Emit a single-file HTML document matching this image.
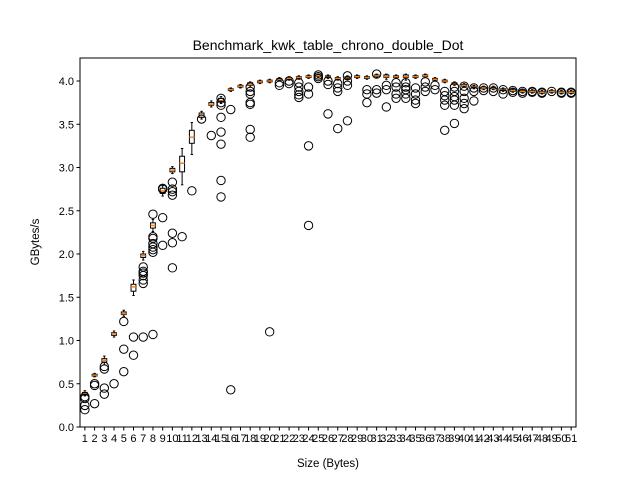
<!DOCTYPE html>
<html><head><meta charset="utf-8"><style>
body{margin:0;background:#fff;}
svg{display:block;font-family:"Liberation Sans","DejaVu Sans",sans-serif;}
</style></head><body>
<svg id="chart" width="640" height="480">
<rect width="640" height="480" fill="#fff"/>
<text x="328" y="50" text-anchor="middle" font-size="14">Benchmark_kwk_table_chrono_double_Dot</text>
<text x="328" y="467" text-anchor="middle" font-size="11.5">Size (Bytes)</text>
<text transform="translate(39,242) rotate(-90)" text-anchor="middle" font-size="11.5">GBytes/s</text>
<g id="marks"></g>
<rect x="80" y="58" width="496" height="369" fill="none" stroke="#000" stroke-width="1"/>
</svg>
<script>
const categories = Array.from({length:51},(_,i)=>String(i+1));
const medians = [0.39,0.6,0.77,1.08,1.31,1.62,1.98,2.33,2.73,2.97,3.05,3.35,3.6,3.73,3.77,3.9,3.94,3.96,3.99,4.0,4.02,4.03,4.04,4.05,4.06,4.05,4.03,4.04,4.05,4.04,4.06,4.05,4.05,4.05,4.05,4.06,4.02,4.0,3.97,3.95,3.93,3.92,3.92,3.9,3.89,3.88,3.88,3.87,3.88,3.87,3.87];
const q1s = [0.37,0.59,0.75,1.06,1.3,1.57,1.96,2.3,2.7,2.95,2.95,3.28,3.58,3.72,3.76,3.89,3.93,3.95,3.98,3.99,4.01,4.02,4.03,4.04,4.05,4.04,4.02,4.03,4.04,4.03,4.05,4.04,4.04,4.04,4.04,4.05,4.01,3.99,3.96,3.94,3.92,3.91,3.91,3.89,3.88,3.87,3.87,3.86,3.87,3.86,3.86];
const q3s = [0.4,0.61,0.79,1.09,1.33,1.65,2.0,2.36,2.76,2.99,3.13,3.43,3.63,3.75,3.8,3.91,3.95,3.98,4.0,4.01,4.03,4.04,4.05,4.06,4.07,4.06,4.04,4.05,4.06,4.05,4.07,4.07,4.06,4.07,4.06,4.07,4.03,4.01,3.98,3.96,3.94,3.93,3.93,3.91,3.9,3.89,3.89,3.88,3.89,3.88,3.88];
const whisLo = [0.36,0.58,0.72,1.04,1.28,1.52,1.93,2.26,2.67,2.93,2.8,3.15,3.56,3.7,3.74,3.88,3.92,3.93,3.97,3.98,4.0,4.01,4.02,4.03,4.04,4.03,4.01,4.02,4.03,4.02,4.04,4.02,4.03,4.01,4.03,4.04,4.0,3.98,3.95,3.93,3.91,3.9,3.9,3.88,3.87,3.86,3.86,3.85,3.86,3.85,3.85];
const whisHi = [0.42,0.62,0.82,1.11,1.35,1.7,2.03,2.4,2.79,3.01,3.22,3.52,3.65,3.77,3.82,3.92,3.96,3.99,4.01,4.02,4.04,4.05,4.06,4.07,4.08,4.07,4.05,4.06,4.07,4.06,4.08,4.08,4.07,4.08,4.07,4.08,4.04,4.02,3.99,3.97,3.95,3.94,3.94,3.92,3.91,3.9,3.9,3.89,3.9,3.89,3.89];
const outliers = [
[0.35,0.33,0.25,0.2],[0.5,0.48,0.27],[0.7,0.67,0.45,0.38],[0.5],[1.22,0.9,0.64],[1.04,0.83],
[1.85,1.8,1.78,1.75,1.7,1.66,1.04],[2.46,2.2,2.18,2.12,2.08,2.05,2.02,1.07],[2.76,2.75,2.42,2.1],
[2.83,2.75,2.72,2.68,2.24,2.13,1.84],[2.2],[2.73],[3.56],[3.37],[3.8,3.75,3.72,3.58,3.41,3.27,2.85,2.66],
[3.67,0.43],[],[3.93,3.88,3.85,3.75,3.73,3.44,3.35],[],[1.1],[3.98,3.95],[4.0,3.97],
[3.98,3.93,3.88,3.84,3.81],[3.93,3.85,3.25,2.33],[4.07,4.05,4.03],[4.0,3.96,3.62],[3.97,3.92,3.88,3.45],
[4.06,4.0,3.95,3.54],[],[3.9,3.85,3.75],[4.08,3.9,3.86],[3.95,3.9,3.7],[3.98,3.93,3.85,3.8],
[3.98,3.93,3.9,3.85,3.8],[3.92,3.85,3.78,3.74],[3.99,3.93,3.88],[3.95,3.9],[3.88,3.83,3.78,3.72,3.43],
[3.93,3.88,3.82,3.78,3.72,3.51],[3.94,3.88,3.8,3.74,3.68],[3.92,3.88,3.77],[3.92,3.89],[3.92,3.88],[3.9,3.85],
[3.89,3.87],[3.88,3.86],[3.88,3.87],[3.87,3.86],[3.88],[3.87,3.86],[3.87,3.86]
];
const yTicks = [0.0,0.5,1.0,1.5,2.0,2.5,3.0,3.5,4.0];

const L=80,R=576,T=58,B=427, yMax=4.266;
const xs = i => L + (i+0.5)*(R-L)/categories.length;
const ys = v => B - v/yMax*(B-T);
const NS="http://www.w3.org/2000/svg";
const g=document.getElementById('marks');
function mk(tag,attrs){const e=document.createElementNS(NS,tag);for(const k in attrs)e.setAttribute(k,attrs[k]);g.appendChild(e);return e;}

yTicks.forEach(v=>{
  const y=ys(v);
  const t=mk('line',{x1:L-3.5,x2:L,y1:y,y2:y,stroke:'#000'});
  
  
  const tx=mk('text',{x:L-6,y:y+4,'text-anchor':'end','font-size':'11'});
  tx.textContent=v.toFixed(1);
  
  
});
const bw=(R-L)/categories.length*0.5;
categories.forEach((c,i)=>{
  const x=xs(i);
  const t=mk('line',{x1:x,x2:x,y1:B,y2:B+3.5,stroke:'#000'});
  
  
  const tx=mk('text',{x:x,y:B+15,'text-anchor':'middle','font-size':'11'});
  tx.textContent=c;
  
  
  const w1=mk('line',{x1:x,x2:x,y1:ys(whisLo[i]),y2:ys(q1s[i]),stroke:'#000'});
  
  
  const w2=mk('line',{x1:x,x2:x,y1:ys(q3s[i]),y2:ys(whisHi[i]),stroke:'#000'});
  
  
  [whisLo[i],whisHi[i]].forEach(v=>{
    const cap=mk('line',{x1:x-bw/4,x2:x+bw/4,y1:ys(v),y2:ys(v),stroke:'#000'});
    
    
  });
  const box=mk('rect',{x:x-bw/2,y:ys(q3s[i]),width:bw,height:Math.max(ys(q1s[i])-ys(q3s[i]),0.5),fill:'none',stroke:'#000'});
  
  
  const m=mk('line',{x1:x-bw/2,x2:x+bw/2,y1:ys(medians[i]),y2:ys(medians[i]),stroke:'#ff7f0e','stroke-width':1.5});
  
  
  outliers[i].forEach(v=>{
    const o=mk('circle',{cx:x,cy:ys(v),r:4.2,fill:'none',stroke:'#000'});
    
    
  });
});
</script>
</body></html>
